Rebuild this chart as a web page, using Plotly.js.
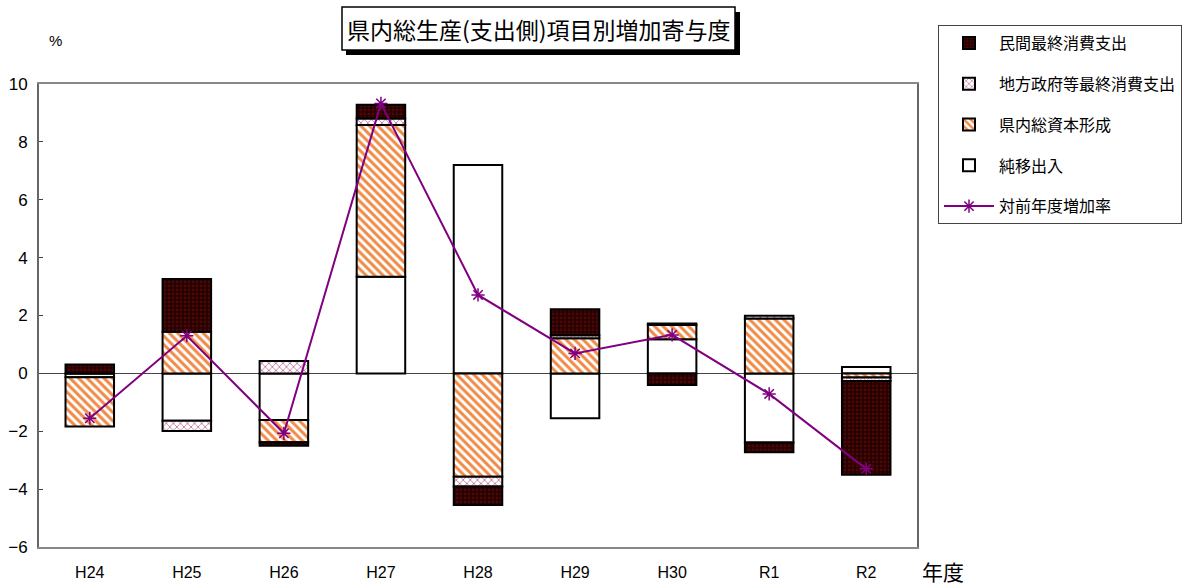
<!DOCTYPE html>
<html>
<head>
<meta charset="utf-8">
<script src="https://cdn.plot.ly/plotly-3.0.1.min.js"></script>
<style>html,body{margin:0;padding:0;background:#fff;}#chart{width:1199px;height:586px;}</style>
</head>
<body>
<div id="chart"></div>
<script>
// Data
var categories = ['H24','H25','H26','H27','H28','H29','H30','R1','R2'];
var privateConsumption = [0.31, 1.82, -0.12, 0.47, -0.64, 0.90, -0.40, -0.34, -3.24];
var govConsumption     = [0.00, -0.35, 0.43, 0.23, -0.34, 0.11, 0.05, 0.09, -0.12];
var capitalFormation   = [-1.71, 1.44, -0.77, 5.24, -3.57, 1.21, 0.49, 1.90, -0.14];
var netExports         = [-0.13, -1.64, -1.61, 3.34, 7.20, -1.55, 1.18, -2.39, 0.22];
var growthRate         = [-1.55, 1.30, -2.07, 9.33, 2.71, 0.69, 1.33, -0.71, -3.30];
var seriesNames = ['民間最終消費支出','地方政府等最終消費支出','県内総資本形成','純移出入','対前年度増加率'];
var titleText = '県内総生産(支出側)項目別増加寄与度';
var yUnit = '%';
var xUnit = '年度';

var numFont = 'Liberation Sans Narrow, Arial Narrow, Liberation Sans, sans-serif';
var cjkFont = 'Noto Sans CJK JP, sans-serif';
var outline = {color: '#000', width: 2};

var traces = [
  {type:'scatter', mode:'lines+markers', name: seriesNames[4], x: categories, y: growthRate,
   legendgroup:'g5', legendrank:5,
   line:{color:'#800080', width:2},
   marker:{symbol:'asterisk-open', size:11, color:'#800080', line:{color:'#800080', width:1.5}}},
  {type:'bar', name: seriesNames[3], x: categories, y: netExports, legendgroup:'g4', legendrank:4,
   marker:{color:'#ffffff', line: outline}},
  {type:'bar', name: seriesNames[2], x: categories, y: capitalFormation, legendgroup:'g3', legendrank:3,
   marker:{color:'#ffffff', line: outline,
     pattern:{shape:'\\', bgcolor:'#ffffff', fgcolor:'#f08a46', fgopacity:1, size:6, solidity:0.5}}},
  {type:'bar', name: seriesNames[1], x: categories, y: govConsumption, legendgroup:'g2', legendrank:2,
   marker:{color:'#ffffff', line: outline,
     pattern:{shape:'x', bgcolor:'#ffffff', fgcolor:'#c0709a', fgopacity:1, size:5, solidity:0.3}}},
  {type:'bar', name: seriesNames[0], x: categories, y: privateConsumption, legendgroup:'g1', legendrank:1,
   marker:{color:'#260000', line: outline,
     pattern:{shape:'.', bgcolor:'#260000', fgcolor:'#4a0808', fgopacity:1, size:4, solidity:0.4}}}
];

function px(x){ return (x-39)/878; }
function py(y){ return (547-y)/463; }

var layout = {
  width:1199, height:586,
  margin:{l:39, r:282, t:84, b:39, pad:0},
  paper_bgcolor:'#ffffff', plot_bgcolor:'#ffffff',
  barmode:'relative', bargap:0.5,
  showlegend:true,
  legend:{x:px(938), y:py(25), xanchor:'left', yanchor:'top',
    traceorder:'grouped', tracegroupgap:17, itemwidth:50,
    bordercolor:'#444', borderwidth:1, bgcolor:'#ffffff',
    font:{family:cjkFont, size:16, color:'#000'}},
  xaxis:{type:'category', showline:true, linecolor:'#888', linewidth:2, mirror:true,
    ticks:'', showgrid:false, zeroline:false,
    tickfont:{family:numFont, size:16, color:'#000'}, ticklabelstandoff:10},
  yaxis:{range:[-6,10], dtick:2, tick0:0, showline:true, linecolor:'#666', linewidth:2, mirror:true,
    ticks:'inside', ticklen:4, tickcolor:'#444', showgrid:false,
    zeroline:true, zerolinecolor:'#444', zerolinewidth:1,
    tickfont:{family:numFont, size:17, color:'#000'}, ticklabelstandoff:6},
  shapes:[
    {type:'rect', xref:'paper', yref:'paper', x0:px(346), x1:px(740), y0:py(55), y1:py(12),
     fillcolor:'#000', line:{width:0}, layer:'above'},
    {type:'rect', xref:'paper', yref:'paper', x0:px(342), x1:px(735), y0:py(50), y1:py(7),
     fillcolor:'#fff', line:{color:'#000', width:1.5}, layer:'above'}
  ],
  annotations:[
    {text:titleText, xref:'paper', yref:'paper', x:px(538.5), y:py(29), xanchor:'center', yanchor:'middle',
     showarrow:false, font:{family:cjkFont, size:23, color:'#000'}},
    {text:yUnit, xref:'paper', yref:'paper', x:px(55), y:py(40), xanchor:'center', yanchor:'middle',
     showarrow:false, font:{family:numFont, size:15, color:'#000'}},
    {text:xUnit, xref:'paper', yref:'paper', x:px(943), y:py(571), xanchor:'center', yanchor:'middle',
     showarrow:false, borderpad:0, font:{family:cjkFont, size:21, color:'#000'}}
  ]
};

Plotly.newPlot('chart', traces, layout, {displayModeBar:false, staticPlot:true});
</script>
</body>
</html>
